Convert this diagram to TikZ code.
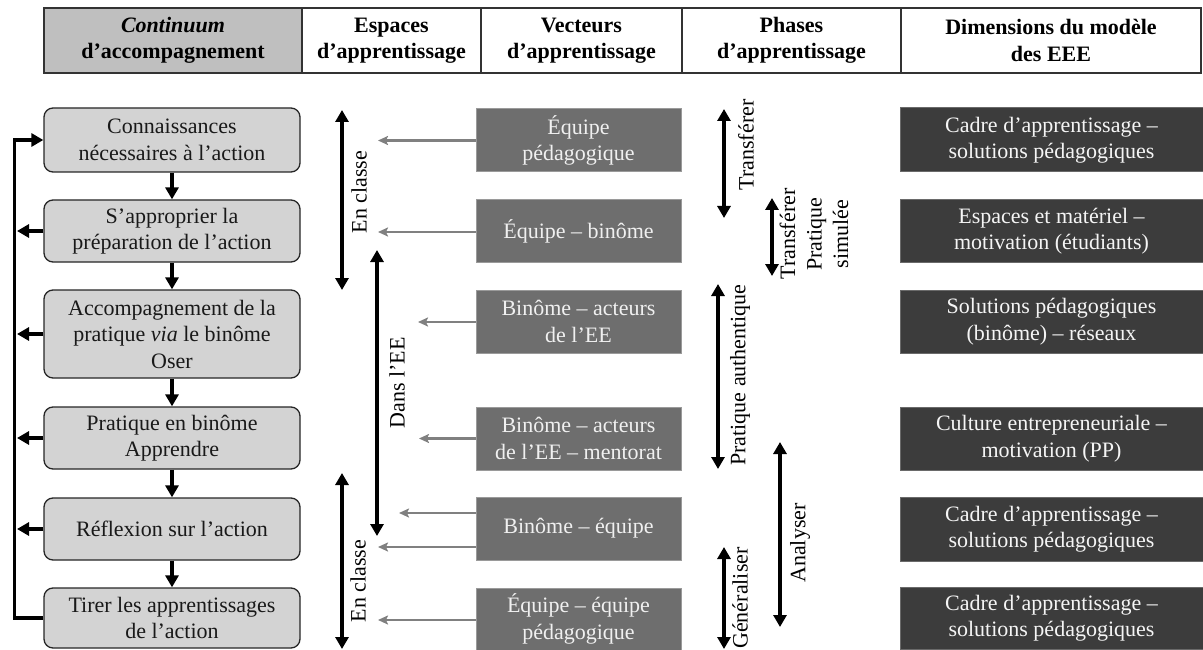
\documentclass[tikz,border=0pt]{standalone}
\usepackage{fontspec}
\setmainfont{Liberation Serif}
\usetikzlibrary{arrows.meta}
\definecolor{lgray}{HTML}{D3D3D3}
\definecolor{hgray}{HTML}{BFBFBF}
\definecolor{vgray}{HTML}{6E6E6E}
\definecolor{vborder}{HTML}{9A9A9A}
\definecolor{dgray}{HTML}{3C3C3C}
\definecolor{dborder}{HTML}{6A6A6A}
\definecolor{arrgray}{HTML}{808080}
\definecolor{hline}{HTML}{333333}
\begin{document}
\begin{tikzpicture}[x=1pt,y=-1pt,
  font=\fontsize{22}{26.5}\selectfont,
  hcell/.style={draw=hline, line width=1.3pt, minimum height=65pt, align=center, inner sep=0pt, font=\fontsize{22}{26.5}\selectfont\bfseries},
  lbox/.style={draw=black!85, line width=1.3pt, fill=lgray, rounded corners=9pt, minimum width=256pt, align=center, inner sep=0pt, text=black!90},
  vbox/.style={draw=vborder, line width=1pt, fill=vgray, minimum width=205pt, align=center, inner sep=0pt, text=white!94!black},
  dbox/.style={draw=dborder, line width=1pt, fill=dgray, minimum width=303pt, align=center, inner sep=0pt, text=white!96!black},
  barrow/.style={line width=3.5pt, -{Triangle[length=12pt,width=13pt]}},
  dblarrow/.style={line width=3.5pt, {Triangle[length=12pt,width=13pt]}-{Triangle[length=12pt,width=13pt]}},
  garrow/.style={draw=arrgray, line width=2.7pt, -{Stealth[length=10pt,width=9pt,inset=2pt]}},
  vlabel/.style={rotate=90, inner sep=0pt, align=center}
]
\path[use as bounding box] (0,0) rectangle (1203,650);
\clip (0,0) rectangle (1203,650);

% header
\node[hcell, fill=hgray, minimum width=258pt] (h1) at (173,40.5) {\textit{Continuum}\\d’accompagnement};
\node[hcell, fill=white, minimum width=179pt] (h2) at (391.5,40.5) {Espaces\\d’apprentissage};
\node[hcell, fill=white, minimum width=201pt] (h3) at (581.5,40.5) {Vecteurs\\d’apprentissage};
\node[hcell, fill=white, minimum width=219pt] (h4) at (791.5,40.5) {Phases\\d’apprentissage};
\node[hcell, fill=white, minimum width=300pt] (h5) at (1051,40.5) {Dimensions du modèle\\des EEE};

% continuum boxes
\node[lbox, minimum height=64pt] (b1) at (172,140) {Connaissances\\nécessaires à l’action};
\node[lbox, minimum height=62pt] (b2) at (172,231) {S’approprier la\\préparation de l’action};
\node[lbox, minimum height=88pt] (b3) at (172,334) {Accompagnement de la\\pratique \textit{via} le binôme\\Oser};
\node[lbox, minimum height=62pt] (b4) at (172,438) {Pratique en binôme\\Apprendre};
\node[lbox, minimum height=62pt] (b5) at (172,529) {Réflexion sur l’action};
\node[lbox, minimum height=60pt] (b6) at (172,618) {Tirer les apprentissages\\de l’action};

\draw[barrow] (b1.south) -- (b2.north);
\draw[barrow] (b2.south) -- (b3.north);
\draw[barrow] (b3.south) -- (b4.north);
\draw[barrow] (b4.south) -- (b5.north);
\draw[barrow] (b5.south) -- (b6.north);

\coordinate (fbline) at (14.5,0);
\coordinate (fbtip) at (17,0);
\draw[barrow] (b2.west) -- (b2.west -| fbtip);
\draw[barrow] (b3.west) -- (b3.west -| fbtip);
\draw[barrow] (b4.west) -- (b4.west -| fbtip);
\draw[barrow] (b5.west) -- (b5.west -| fbtip);
\draw[barrow, line join=miter] (b6.west) -- (b6.west -| fbline) -- (b1.west -| fbline) -- (b1.west);

% vecteurs boxes
\node[vbox, minimum height=63pt] (v1) at (578.5,140.5) {Équipe\\pédagogique};
\node[vbox, minimum height=62pt] (v2) at (578.5,231) {Équipe – binôme};
\node[vbox, minimum height=63pt] (v3) at (578.5,321.5) {Binôme – acteurs\\de l’EE};
\node[vbox, minimum height=63pt] (v4) at (578.5,438.5) {Binôme – acteurs\\de l’EE – mentorat};
\node[vbox, minimum height=63pt] (v5) at (578.5,528.5) {Binôme – équipe};
\node[vbox, minimum height=62pt] (v6) at (578.5,619) {Équipe – équipe\\pédagogique};

\coordinate (g1) at (378,140.5);
\coordinate (g2) at (378,232);
\coordinate (g3) at (418,322);
\coordinate (g4) at (419,438.5);
\coordinate (g5a) at (399,513);
\coordinate (g5b) at (378,547);
\coordinate (g6) at (378,620);
\draw[garrow] (v1.west) -- (g1);
\draw[garrow] (v2.west |- g2) -- (g2);
\draw[garrow] (v3.west |- g3) -- (g3);
\draw[garrow] (v4.west) -- (g4);
\draw[garrow] (v5.west |- g5a) -- (g5a);
\draw[garrow] (v5.west |- g5b) -- (g5b);
\draw[garrow] (v6.west |- g6) -- (g6);

% espaces arrows
\coordinate (ec1t) at (342,110);
\coordinate (ec1b) at (342,290);
\draw[dblarrow] (ec1t) -- (ec1b);
\node[vlabel] (lec1) at (359,192) {En classe};
\coordinate (deet) at (377,250);
\coordinate (deeb) at (377,536);
\draw[dblarrow] (deet) -- (deeb);
\node[vlabel] (ldee) at (397,383) {Dans l’EE};
\coordinate (ec2t) at (342,473);
\coordinate (ec2b) at (342,649);
\draw[dblarrow] (ec2t) -- (ec2b);
\node[vlabel] (lec2) at (358,581) {En classe};

% phases arrows
\coordinate (tr1t) at (724,109);
\coordinate (tr1b) at (724,218);
\draw[dblarrow] (tr1t) -- (tr1b);
\node[vlabel] (ltr1) at (746,145) {Transférer};
\coordinate (tr2t) at (772,198);
\coordinate (tr2b) at (772,276);
\draw[dblarrow] (tr2t) -- (tr2b);
\node[vlabel] (ltr2) at (814,234) {Transférer\\Pratique\\simulée};
\coordinate (pat) at (718,284);
\coordinate (pab) at (718,469);
\draw[dblarrow] (pat) -- (pab);
\node[vlabel] (lpa) at (740,375) {Pratique authentique};
\coordinate (ant) at (780,442);
\coordinate (anb) at (780,627);
\draw[dblarrow] (ant) -- (anb);
\node[vlabel] (lan) at (800,543) {Analyser};
\coordinate (get) at (724,547);
\coordinate (geb) at (724,649);
\draw[dblarrow] (get) -- (geb);
\node[vlabel] (lge) at (740,598) {Généraliser};

% dimensions boxes
\node[dbox, minimum height=64pt] (d1) at (1051.5,140) {Cadre d’apprentissage –\\solutions pédagogiques};
\node[dbox, minimum height=62pt] (d2) at (1051.5,231) {Espaces et matériel –\\motivation (étudiants)};
\node[dbox, minimum height=63pt] (d3) at (1051.5,321.5) {Solutions pédagogiques\\(binôme) – réseaux};
\node[dbox, minimum height=63pt] (d4) at (1051.5,438.5) {Culture entrepreneuriale –\\motivation (PP)};
\node[dbox, minimum height=64pt] (d5) at (1051.5,529) {Cadre d’apprentissage –\\solutions pédagogiques};
\node[dbox, minimum height=62pt] (d6) at (1051.5,618) {Cadre d’apprentissage –\\solutions pédagogiques};
\end{tikzpicture}
\end{document}
